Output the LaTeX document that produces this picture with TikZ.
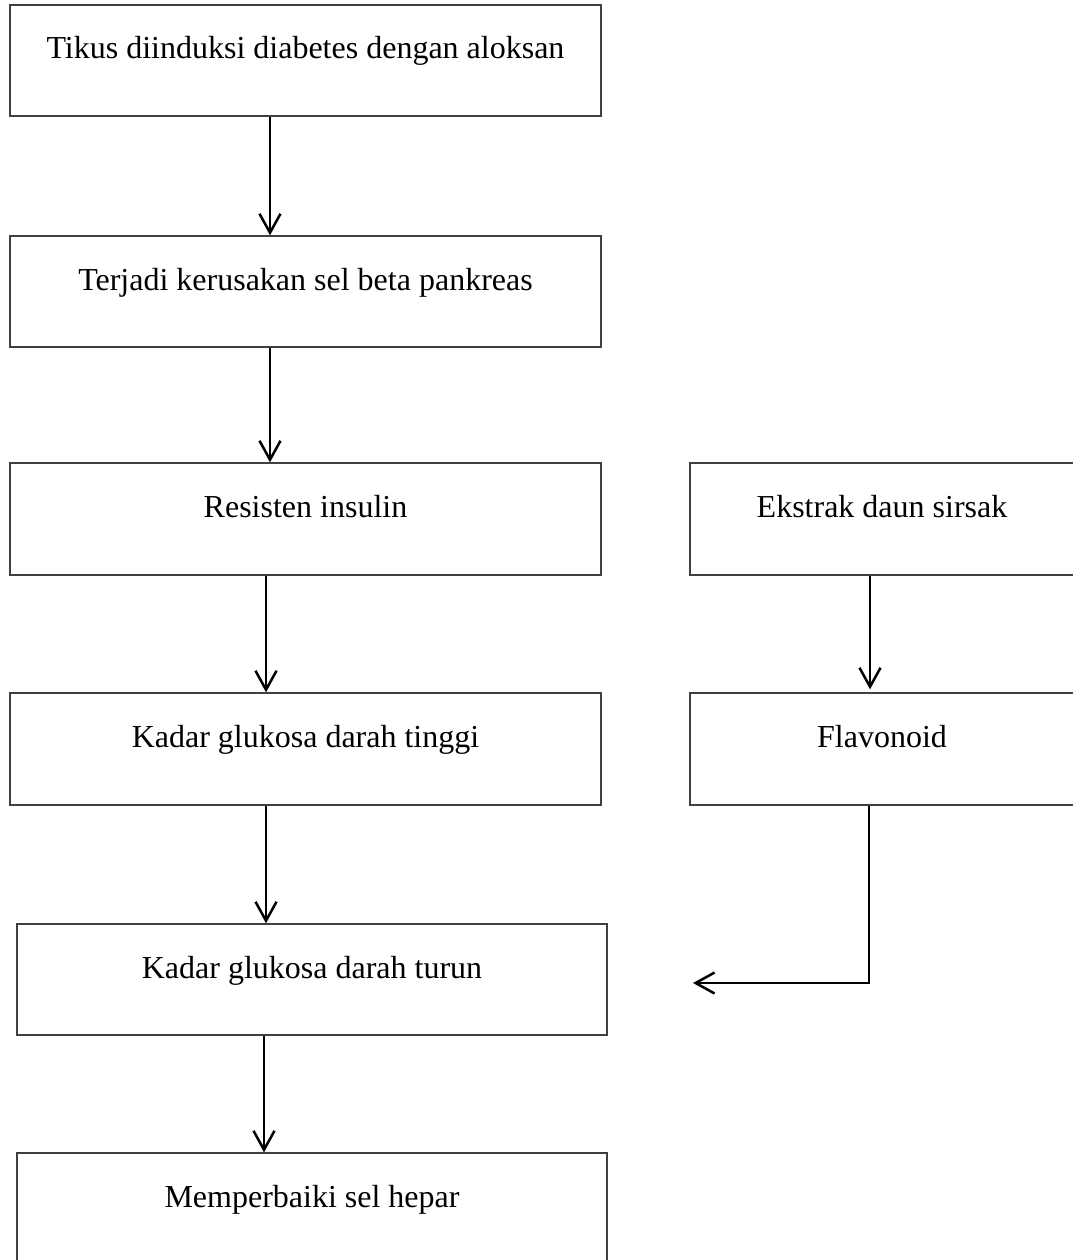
\documentclass[tikz,border=0pt]{standalone}
\usepackage{fontspec}
\setmainfont{Liberation Serif}
\usetikzlibrary{arrows.meta}
\begin{document}
\begin{tikzpicture}[x=1pt,y=-1pt,
  box/.style={draw=black!75, line width=1.3pt, rectangle, inner sep=0pt,
    minimum width=591pt, minimum height=111pt, text height=22pt, text depth=25pt,
    font=\fontsize{32}{38}\selectfont},
  arr/.style={draw=black, line width=2.5pt, -{Straight Barb[length=19pt,width=21pt,line width=2.5pt]}}]
\useasboundingbox (0,0) rectangle (1072,1260);
\fill[white] (0,0) rectangle (1072,1260);
\node[box] (b1) at (305.5,60.5) {Tikus diinduksi diabetes dengan aloksan};
\node[box] (b2) at (305.5,291.5) {Terjadi kerusakan sel beta pankreas};
\node[box, minimum height=112pt] (b3) at (305.5,519) {Resisten insulin};
\node[box, minimum height=112pt] (b4) at (305.5,749) {Kadar glukosa darah tinggi};
\node[box, minimum width=590pt] (b5) at (312,979.5) {Kadar glukosa darah turun};
\node[box, minimum width=590pt] (b6) at (312,1208.5) {Memperbaiki sel hepar};
\node[box, minimum width=384pt, minimum height=112pt] (b7) at (882,519) {Ekstrak daun sirsak};
\node[box, minimum width=384pt, minimum height=112pt] (b8) at (882,749) {Flavonoid};
\coordinate (e) at (693,983);
\draw[arr] (b1.south -| 270,0) -- (b2.north -| 270,0);
\draw[arr] (b2.south -| 270,0) -- (b3.north -| 270,0);
\draw[arr] (b3.south -| 266,0) -- (b4.north -| 266,0);
\draw[arr] (b4.south -| 266,0) -- (b5.north -| 266,0);
\draw[arr] (b5.south -| 264,0) -- (b6.north -| 264,0);
\draw[arr] (b7.south -| 870,0) -- ([yshift=3pt]b8.north -| 870,0);
\draw[arr] (b8.south -| 869,0) |- (e);
\end{tikzpicture}
\end{document}
